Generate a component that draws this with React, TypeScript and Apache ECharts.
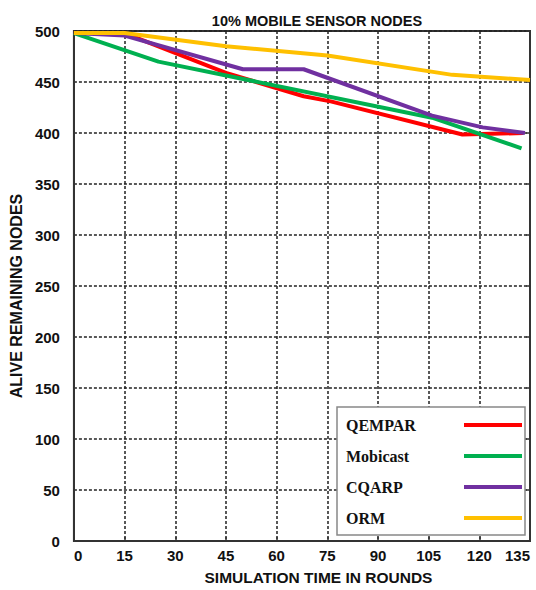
import React, { useEffect, useRef } from "react";
import * as echarts from "echarts";

const seriesNames = ["QEMPAR", "Mobicast", "CQARP", "ORM"];
const seriesColors = ["#FF0000", "#00B050", "#7030A0", "#FFC000"];

const qemparData: [number, number][] = [
  [0, 498], [15, 498], [45, 459], [68, 436], [76, 431], [115, 398.5], [133, 400],
];
const mobicastData: [number, number][] = [
  [0, 498], [25, 470], [106, 415], [132.5, 385],
];
const cqarpData: [number, number][] = [
  [0, 498], [15, 495.5], [50, 462.5], [68, 462.5], [106, 417], [121, 405.5], [133.5, 400],
];
const ormData: [number, number][] = [
  [0, 498], [15, 498], [45, 485], [75, 476], [112, 457], [135, 452],
];

const xTicks = { min: 0, max: 135, interval: 15 };
const yTicks = { min: 0, max: 500, interval: 50 };

const titleText = "10% MOBILE SENSOR NODES";
const xName = "SIMULATION TIME IN ROUNDS";
const yName = "ALIVE REMAINING NODES";

export default function App() {
  const ref = useRef<HTMLDivElement>(null);
  useEffect(() => {
    if (!ref.current) return;
    const chart = echarts.init(ref.current, null, { renderer: "svg" });
    const sans = "Liberation Sans";
    const grid = { left: 66.7, right: 6, top: 31, bottom: 46.7 };
    const gridLine = { show: true, lineStyle: { color: "#222", width: 1.5, type: [3, 2] as any } };
    const allData = [qemparData, mobicastData, cqarpData, ormData];
    chart.setOption({
      animation: false,
      backgroundColor: "#fff",
      title: {
        text: titleText,
        left: 312,
        top: 8,
        textAlign: "center",
        textStyle: { fontFamily: sans, fontWeight: "bold", fontSize: 14.5, color: "#111" },
      },
      grid: { ...grid, show: true, borderColor: "#333", borderWidth: 2, backgroundColor: "transparent" },
      legend: {
        left: 337,
        top: 407,
        orient: "vertical",
        align: "right",
        icon: "rect",
        itemWidth: 58,
        itemHeight: 4,
        itemGap: 15,
        padding: [10, 3, 9, 9],
        backgroundColor: "#fff",
        borderColor: "#888",
        borderWidth: 1.5,
        data: seriesNames,
        formatter: (name: string) => "{a|" + name + "}",
        textStyle: {
          rich: {
            a: {
              width: 113,
              align: "left",
              fontFamily: "Liberation Serif",
              fontWeight: "bold",
              fontSize: 16,
              lineHeight: 16,
              color: "#111",
            },
          },
        },
      },
      xAxis: {
        type: "value",
        ...xTicks,
        name: xName,
        nameLocation: "middle",
        nameGap: 28,
        nameTextStyle: { fontFamily: sans, fontWeight: "bold", fontSize: 15.5, color: "#111", padding: [0, 0, 0, 33] },
        axisLine: { show: true, lineStyle: { color: "#333", width: 2 } },
        axisTick: { show: true, inside: true, length: 4, lineStyle: { color: "#333", width: 1.5 } },
        axisLabel: {
          fontFamily: sans,
          fontWeight: "bold",
          fontSize: 15,
          color: "#111",
          margin: 7,
          alignMinLabel: "left",
          alignMaxLabel: "right",
        },
        splitLine: gridLine,
      },
      yAxis: [
        {
          type: "value",
          ...yTicks,
          name: yName,
          nameLocation: "middle",
          nameGap: 42,
          nameTextStyle: { fontFamily: sans, fontWeight: "bold", fontSize: 16, color: "#111", padding: [0, 20, 0, 0] },
          axisLine: { show: true, lineStyle: { color: "#333", width: 2 } },
          axisTick: { show: false },
          axisLabel: { fontFamily: sans, fontWeight: "bold", fontSize: 15, color: "#111", margin: 14 },
          splitLine: gridLine,
        },
        {
          type: "value",
          ...yTicks,
          position: "right",
          axisLine: { show: true, lineStyle: { color: "#333", width: 2 } },
          axisTick: { show: true, inside: true, length: 4, lineStyle: { color: "#333", width: 1.5 } },
          axisLabel: { show: false },
          splitLine: { show: false },
        },
      ],
      series: seriesNames.map((name, i) => ({
        name,
        type: "line",
        data: allData[i],
        yAxisIndex: 0,
        showSymbol: false,
        symbol: "none",
        color: seriesColors[i],
        lineStyle: { color: seriesColors[i], width: 4 },
        z: 3,
      })),
    });
    return () => chart.dispose();
  }, []);
  return <div ref={ref} style={{ position: "fixed", left: 0, top: 0, width: 536, height: 590 }} />;
}
